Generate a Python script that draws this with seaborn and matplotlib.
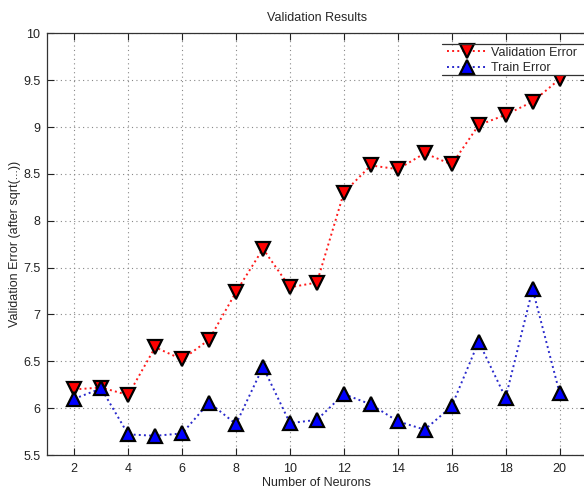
import matplotlib
matplotlib.use("Agg")
import matplotlib.pyplot as plt
import seaborn as sns
import pandas as pd
from matplotlib.lines import Line2D

neurons = list(range(2, 21))
validation_error = [6.20, 6.22, 6.14, 6.65, 6.52, 6.73, 7.24, 7.70, 7.29, 7.34,
                    8.30, 8.59, 8.55, 8.72, 8.60, 9.02, 9.13, 9.27, 9.51]
train_error = [6.10, 6.21, 5.72, 5.705, 5.73, 6.06, 5.83, 6.44, 5.84, 5.875,
               6.15, 6.04, 5.86, 5.77, 6.02, 6.71, 6.11, 7.27, 6.165]
x_ticks = [2, 4, 6, 8, 10, 12, 14, 16, 18, 20]
y_ticks = [5.5, 6, 6.5, 7, 7.5, 8, 8.5, 9, 9.5, 10]
y_ticklabels = ["5.5", "6", "6.5", "7", "7.5", "8", "8.5", "9", "9.5", "10"]

sns.set_style("white")
plt.rcParams['font.family'] = ['Liberation Sans', 'DejaVu Sans']
FS = 9

df_val = pd.DataFrame({"Neurons": neurons, "Error": validation_error})
df_train = pd.DataFrame({"Neurons": neurons, "Error": train_error})

fig = plt.figure(figsize=(5.84, 4.88), dpi=100)
left = 47.3 / 584
ax = fig.add_axes([left, 1 - 455 / 488, (586.5 - 47.3) / 584, (455 - 33.3) / 488])

common = dict(markersize=9.5, markeredgecolor="black", markeredgewidth=1.6,
              linestyle=":", linewidth=1.4)
sns.lineplot(data=df_val, x="Neurons", y="Error", ax=ax, color="#ff1a1a",
             marker="v", markerfacecolor="#ff0000", zorder=7, clip_on=False,
             **common)
sns.lineplot(data=df_train, x="Neurons", y="Error", ax=ax, color="#2a2acc",
             marker="^", markerfacecolor="#0000ff", zorder=7, clip_on=False,
             **common)

ax.set_xlim(1, 21)
ax.set_ylim(5.5, 10)
ax.set_xticks(x_ticks)
ax.set_xticklabels([str(t) for t in x_ticks])
ax.set_yticks(y_ticks)
ax.set_yticklabels(y_ticklabels)
ax.grid(True, linestyle=(0, (1, 3)), color="#888888", linewidth=0.8)
ax.tick_params(direction="in", length=5, width=0.8, labelsize=FS, colors="#222222",
               top=True, right=True, bottom=True, left=True)
ax.tick_params(axis="x", pad=6)
ax.tick_params(axis="y", pad=5)
for s in ax.spines.values():
    s.set_visible(True)
    s.set_color("#333333")
    s.set_linewidth(0.9)

ax.set_title("Validation Results", fontsize=FS, pad=9)
ax.set_xlabel("Number of Neurons", fontsize=FS)
ax.xaxis.set_label_coords(0.5, -(477 - 455) / 421.7)
ax.set_ylabel("Validation Error (after sqrt(...))", fontsize=FS)
ax.yaxis.set_label_coords(-(47.3 - 21) / 539.2, 0.5)

handles = [
    Line2D([], [], color="#ff1a1a", marker="v", markerfacecolor="#ff0000",
           **common),
    Line2D([], [], color="#2a2acc", marker="^", markerfacecolor="#0000ff",
           **common),
]
leg = fig.legend(handles, ["Validation Error", "Train Error"], loc="upper left",
                 bbox_to_anchor=(446 / 584, 1 - 45.5 / 488),
                 bbox_transform=fig.transFigure, fontsize=FS, frameon=True,
                 fancybox=False, framealpha=1, edgecolor="none",
                 handlelength=3.2, handletextpad=0.3, borderpad=0.1,
                 borderaxespad=0, labelspacing=0.25)
leg.set_zorder(5)

# top and bottom rule of legend box
for yy in (43.5, 74.5):
    fig.add_artist(Line2D([442 / 584, 1.0], [1 - yy / 488, 1 - yy / 488],
                          color="#333333", linewidth=0.9, zorder=6))

fig.savefig("out.png", dpi=100)
